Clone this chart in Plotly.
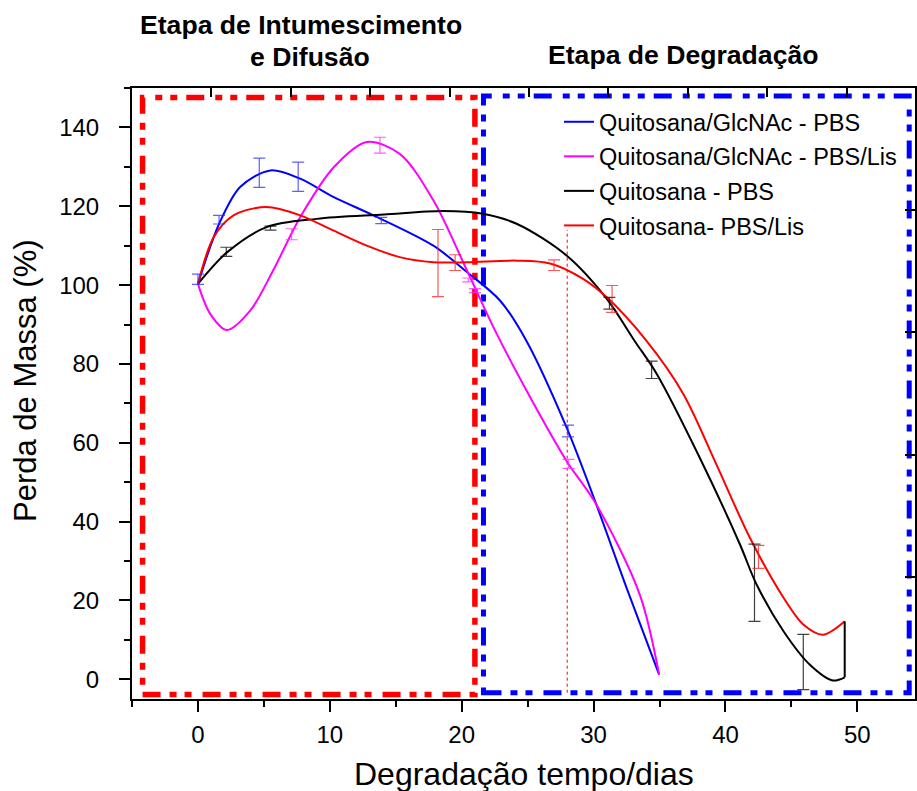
import plotly.graph_objects as go

# ---------------- data ----------------
series_names = ["Quitosana/GlcNAc - PBS", "Quitosana/GlcNAc - PBS/Lis",
                "Quitosana - PBS", "Quitosana- PBS/Lis"]

# fitted curves
blue_x = [0, 1.6, 3.2, 5.5, 7.75, 10.3, 13.3, 17.85, 20.4, 22.9, 24.9, 27.95, 30.2, 32.5, 34.97]
blue_y = [100.3, 115.5, 124.9, 129.1, 127.0, 122.3, 117.7, 110.0, 103.3, 96.1, 85.9, 63.9, 44.4, 23.2, 1.2]

magenta_x = [0, 0.93, 2.2, 3.96, 5.7, 7.75, 10.3, 12.8, 15.3, 17.85, 20.4, 22.6, 25.2, 27.95, 30.2, 33.5, 34.97]
magenta_y = [100.3, 92.7, 88.6, 93.5, 103.7, 117.2, 129.9, 136.3, 133.3, 121.5, 103.7, 88.0, 71.5, 55.4, 44.4, 21.5, 1.2]

black_x = [0, 2.2, 5.2, 9.0, 14.1, 18.6, 21.6, 24.2, 27.95, 31.0, 33.1, 34.8, 38.05, 41.1, 42.35, 44.4, 46.4, 48.15, 49.04]
black_y = [100.3, 108.3, 114.7, 116.8, 117.9, 118.8, 118.1, 115.5, 107.5, 96.5, 85.9, 77.4, 56.2, 34.2, 24.1, 12.2, 3.7, -0.3, 0.5]
black_tail_x = [49.04, 49.04]
black_tail_y = [0.5, 14.7]

red_x = [0, 1.2, 2.7, 5.2, 7.75, 10.3, 12.8, 15.3, 17.85, 20.4, 24.2, 26.7, 29.2, 31.0, 34.0, 36.8, 39.3, 41.85, 44.4, 45.9, 47.4, 49.04]
red_y = [100.3, 112.2, 117.7, 119.8, 117.7, 113.8, 110.0, 107.1, 105.8, 105.8, 106.2, 105.5, 101.6, 96.9, 85.9, 72.4, 54.6, 35.9, 20.7, 13.9, 11.3, 14.7]

# measured points with error bars
blue_pt_x = [0, 1.6, 4.65, 7.6, 13.9, 28.06]
blue_pt_y = [101.5, 116.6, 128.5, 127.5, 116.4, 63.0]
blue_pt_err = [1.3, 1.1, 3.7, 3.7, 0.8, 1.5]

magenta_pt_x = [7.1, 13.8, 20.5, 21.0, 28.1]
magenta_pt_y = [112.9, 135.5, 101.3, 98.6, 54.65]
magenta_pt_err = [1.4, 2.0, 0.5, 0.5, 1.15]

black_pt_x = [2.15, 5.5, 31.2, 34.4, 42.2, 45.9]
black_pt_y = [108.45, 114.45, 95.4, 78.5, 24.5, 4.4]
black_pt_err = [1.15, 0.5, 1.5, 2.2, 9.8, 7.0]

red_pt_x = [18.2, 19.5, 27.0, 31.4, 42.5]
red_pt_y = [105.6, 105.7, 105.05, 96.5, 31.05]
red_pt_err = [8.5, 2.0, 1.35, 3.4, 2.9]

# stage regions (days, %)
stage1_x = [-4.2, 21.0]
stage2_x = [21.65, 53.93]
stage1_y = [-3.85, 147.6]
stage2_y = [-3.4, 148.0]
marker_day = 28
marker_top = 114

x_ticks = [0, 10, 20, 30, 40, 50]
y_ticks = [0, 20, 40, 60, 80, 100, 120, 140]

# ---------------- figure ----------------
FONT = "Liberation Sans, Arial, Helvetica, sans-serif"
fig = go.Figure()

curves = [
    (blue_x, blue_y, "#0000FF", blue_pt_x, blue_pt_y, blue_pt_err, "rgba(40,40,255,0.75)"),
    (magenta_x, magenta_y, "#FF00FF", magenta_pt_x, magenta_pt_y, magenta_pt_err, "rgba(255,40,255,0.75)"),
    (black_x, black_y, "#000000", black_pt_x, black_pt_y, black_pt_err, "rgba(0,0,0,0.75)"),
    (red_x, red_y, "#FF0000", red_pt_x, red_pt_y, red_pt_err, "rgba(255,30,30,0.75)"),
]

for i, (cx, cy, col, px, py, pe, ecol) in enumerate(curves):
    fig.add_trace(go.Scatter(
        x=cx, y=cy, mode="lines", name=series_names[i],
        line=dict(color=col, width=2, shape="spline", smoothing=0.9),
        legendgroup=f"g{i}",
    ))
fig.add_trace(go.Scatter(
    x=black_tail_x, y=black_tail_y, mode="lines", showlegend=False, legendgroup="g2",
    line=dict(color="#000000", width=2), hoverinfo="skip",
))
for i, (cx, cy, col, px, py, pe, ecol) in enumerate(curves):
    fig.add_trace(go.Scatter(
        x=px, y=py, mode="markers", showlegend=False, legendgroup=f"g{i}",
        marker=dict(size=1, color="rgba(0,0,0,0)"),
        error_y=dict(type="data", array=pe, visible=True, color=ecol, thickness=1.2, width=6),
        hoverinfo="skip",
    ))

# dummy trace for the frame axes (top / right)
fig.add_trace(go.Scatter(x=[None], y=[None], xaxis="x2", yaxis="y2", showlegend=False, hoverinfo="skip"))

dash_pat = "18px,9px,7px,8px,7px,11px"
fig.add_shape(type="rect", xref="x", yref="y",
              x0=stage1_x[0], x1=stage1_x[1], y0=stage1_y[0], y1=stage1_y[1],
              line=dict(color="#FF0000", width=5.5, dash=dash_pat), layer="below")
fig.add_shape(type="rect", xref="x", yref="y",
              x0=stage2_x[0], x1=stage2_x[1], y0=stage2_y[0], y1=stage2_y[1],
              line=dict(color="#0000FF", width=5, dash=dash_pat), layer="below")
fig.add_shape(type="line", xref="x", yref="y",
              x0=marker_day, x1=marker_day, y0=stage2_y[0], y1=marker_top,
              line=dict(color="#FF0000", width=1, dash="3px,3px"), layer="below")

def px2paper_x(p):
    return (p - 132) / 783.0

def px2paper_y(p):
    return (699 - p) / 611.0

ann = [
    ("<b>Etapa de Intumescimento</b>", 301, 25, 26.6, 0),
    ("<b>e Difusão</b>", 310, 57, 26.6, 0),
    ("<b>Etapa de Degradação</b>", 682.5, 55, 26.6, 0),
    ("Degradação tempo/dias", 523.5, 774, 32, 0),
    ("Perda de Massa (%)", 25, 381, 31, -90),
]
for text, xp, yp, fs, ang in ann:
    fig.add_annotation(text=text, xref="paper", yref="paper",
                       x=px2paper_x(xp), y=px2paper_y(yp),
                       xanchor="center", yanchor="middle", showarrow=False,
                       textangle=ang, font=dict(family=FONT, size=fs, color="black"))

axis_common = dict(showgrid=False, zeroline=False, showline=True, linecolor="black",
                   linewidth=2, tickcolor="black", tickwidth=2,
                   tickfont=dict(family=FONT, size=24, color="black"))

fig.update_layout(
    width=917, height=791,
    margin=dict(l=132, r=2, t=88, b=92),
    paper_bgcolor="white", plot_bgcolor="white",
    font=dict(family=FONT, color="black"),
    xaxis=dict(range=[-5, 54.37], tickvals=x_ticks, ticks="outside", ticklen=11,
               minor=dict(dtick=5, tick0=0, ticks="outside", ticklen=6, tickwidth=2, tickcolor="black"),
               ticklabelstandoff=2, **axis_common),
    yaxis=dict(range=[-5, 150], tickvals=y_ticks, ticks="outside", ticklen=11,
               minor=dict(dtick=10, tick0=0, ticks="outside", ticklen=6, tickwidth=2, tickcolor="black"),
               ticklabelstandoff=15, **axis_common),
    xaxis2=dict(overlaying="x", side="top", anchor="y", range=[0, 9.86], dtick=1, tick0=0,
                ticks="inside", ticklen=9, showticklabels=False, showgrid=False, zeroline=False,
                showline=True, linecolor="black", linewidth=2, tickcolor="black", tickwidth=2),
    yaxis2=dict(overlaying="y", side="right", anchor="x", range=[0, 5], dtick=1, tick0=0,
                ticks="inside", ticklen=10, showticklabels=False, showgrid=False, zeroline=False,
                showline=True, linecolor="black", linewidth=2, tickcolor="black", tickwidth=2),
    legend=dict(x=px2paper_x(559), y=px2paper_y(100), xanchor="left", yanchor="top",
                bgcolor="rgba(0,0,0,0)", borderwidth=0,
                font=dict(family=FONT, size=23.5, color="black"),
                traceorder="grouped", tracegroupgap=1),
    showlegend=True,
)

fig.write_html("out.html", config={"displayModeBar": False},
               post_script="document.body.style.margin='0px';")
